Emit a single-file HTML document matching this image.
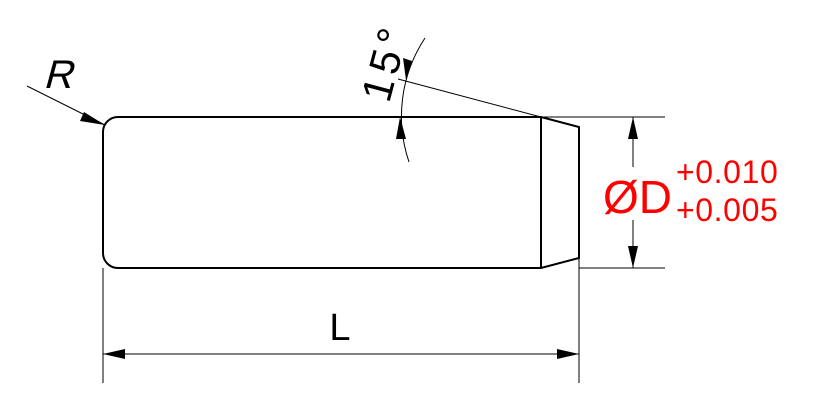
<!DOCTYPE html>
<html><head><style>body{margin:0;background:#fff}svg{display:block}</style></head><body>
<svg width="815" height="415" viewBox="0 0 815 415" xmlns="http://www.w3.org/2000/svg" font-family="Liberation Sans, sans-serif">
<g fill="none" stroke="#000" stroke-width="2">
<path d="M118 117 H541 L579 127 V258 L541 268 H118 A15 15 0 0 1 103 253 V132 A15 15 0 0 1 118 117 Z"/>
<line x1="541" y1="117" x2="541" y2="268"/>
</g>
<g fill="none" stroke="#000" stroke-width="1">
<line x1="541" y1="117" x2="665" y2="117"/>
<line x1="579" y1="268" x2="665" y2="268"/>
<line x1="633" y1="117" x2="633" y2="167"/>
<line x1="633" y1="220" x2="633" y2="268"/>
<line x1="103" y1="268" x2="103" y2="383"/>
<line x1="579" y1="258" x2="579" y2="383"/>
<line x1="103" y1="354" x2="579" y2="354"/>
<line x1="27" y1="86" x2="105" y2="125"/>
<line x1="541" y1="117" x2="398" y2="79"/>
<path d="M425 38 A142 142 0 0 0 409 162"/>
</g>
<g fill="#000">
<polygon points="633,117 628,139 638,139"/>
<polygon points="633,268 628,246 638,246"/>
<polygon points="103,354 125,349 125,359"/>
<polygon points="579,354 557,349 557,359"/>
<polygon points="105,125 84,112 80,121"/>
<polygon points="406,80 403,58 412,61"/>
<polygon points="400,117 396,139 406,139"/>
</g>
<text x="0" y="0" font-size="40" transform="translate(43,88) skewX(-15)">R</text>
<text x="0" y="0" font-size="42" letter-spacing="5" transform="translate(389,104) rotate(-75)">15°</text>
<text x="340" y="340" font-size="38" text-anchor="middle">L</text>
<g fill="#f00">
<text x="603" y="213" font-size="46">ØD</text>
<text x="676" y="183" font-size="32" letter-spacing="0.6">+0.010</text>
<text x="676" y="221" font-size="32" letter-spacing="0.6">+0.005</text>
</g>
</svg>
</body></html>
